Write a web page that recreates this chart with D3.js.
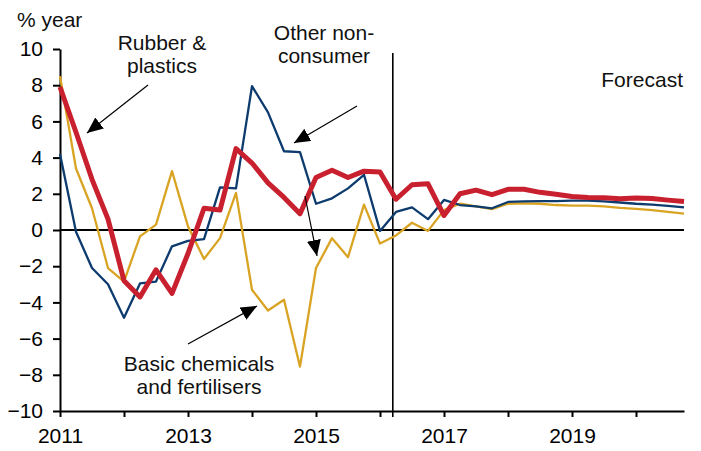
<!DOCTYPE html>
<html>
<head>
<meta charset="utf-8">
<script src="https://cdn.jsdelivr.net/npm/d3@7"></script>
<style>
  body { margin: 0; background: #fff; }
  svg { display: block; font-family: "Liberation Sans", Arial, sans-serif; }
</style>
</head>
<body>
<div id="chart"></div>
<script>
const quarters = [
  "2011Q1","2011Q2","2011Q3","2011Q4","2012Q1","2012Q2","2012Q3","2012Q4",
  "2013Q1","2013Q2","2013Q3","2013Q4","2014Q1","2014Q2","2014Q3","2014Q4",
  "2015Q1","2015Q2","2015Q3","2015Q4","2016Q1","2016Q2","2016Q3","2016Q4",
  "2017Q1","2017Q2","2017Q3","2017Q4","2018Q1","2018Q2","2018Q3","2018Q4",
  "2019Q1","2019Q2","2019Q3","2019Q4","2020Q1","2020Q2","2020Q3","2020Q4"
];

// % year
const basicChemicals = [
  8.5, 3.4, 1.2, -2.1, -2.85, -0.35, 0.3, 3.25, 0.2, -1.6, -0.45, 2.05,
  -3.3, -4.45, -3.85, -7.55, -2.1, -0.45, -1.5, 1.4, -0.75, -0.3, 0.4, -0.05,
  1.1, 1.45, 1.3, 1.15, 1.45, 1.47, 1.45, 1.38, 1.35, 1.35, 1.3, 1.22,
  1.17, 1.1, 1.0, 0.9
];
const otherNonConsumer = [
  4.2, -0.1, -2.1, -3.0, -4.85, -2.95, -2.85, -0.9, -0.6, -0.5, 2.35, 2.3,
  7.95, 6.5, 4.35, 4.3, 1.45, 1.75, 2.3, 3.05, -0.05, 1.0, 1.25, 0.6,
  1.66, 1.38, 1.3, 1.2, 1.55, 1.58, 1.6, 1.6, 1.62, 1.62, 1.58, 1.52,
  1.45, 1.4, 1.33, 1.25
];
const rubberPlastics = [
  7.9, 5.4, 2.8, 0.6, -2.8, -3.7, -2.2, -3.5, -1.3, 1.2, 1.1, 4.5,
  3.7, 2.6, 1.8, 0.9, 2.9, 3.3, 2.9, 3.25, 3.2, 1.7, 2.5, 2.55,
  0.8, 2.0, 2.2, 1.95, 2.25, 2.25, 2.08, 1.98, 1.85, 1.8, 1.78, 1.72,
  1.77, 1.74, 1.65, 1.57
];

const yTicks = [-10, -8, -6, -4, -2, 0, 2, 4, 6, 8, 10];
const xTicks = [2011, 2012, 2013, 2014, 2015, 2016, 2017, 2018, 2019, 2020];
const xLabelled = [2011, 2013, 2015, 2017, 2019];
const forecastStart = 2016.2;

const toYear = q => +q.slice(0, 4) + (+q.slice(5) - 1) / 4;

const size = { x: 701, y: 451 };
const plot = { left: 60, right: 684, top: 49, bottom: 411 };
const fontSize = "21px";

const svg = d3.select("#chart")
  .append("svg")
  .attr("width", size.x)
  .attr("height", size.y);

const xScale = d3.scaleLinear()
  .domain([2011, 2020.75])
  .range([plot.left, plot.right]);

const yScale = d3.scaleLinear()
  .domain([-10, 10])
  .range([plot.bottom, plot.top]);

// axes
const yAxis = svg.append("g")
  .attr("transform", `translate(${plot.left},0)`)
  .call(d3.axisLeft(yScale).tickValues(yTicks).tickSizeInner(7).tickSizeOuter(0).tickPadding(10));

const xAxis = svg.append("g")
  .attr("transform", `translate(0,${plot.bottom})`)
  .call(d3.axisBottom(xScale).tickValues(xTicks).tickSizeInner(6).tickSizeOuter(0).tickPadding(11)
    .tickFormat(d => xLabelled.includes(d) ? d : ""));

[xAxis, yAxis].forEach(g => {
  g.attr("font-family", null).attr("font-size", fontSize);
  g.selectAll("path, line").attr("stroke", "#000").attr("stroke-width", 2);
  g.selectAll("text").attr("fill", "#000");
});

// zero line
svg.append("line")
  .attr("x1", plot.left).attr("x2", plot.right)
  .attr("y1", yScale(0)).attr("y2", yScale(0))
  .attr("stroke", "#000").attr("stroke-width", 2);

// forecast divider
svg.append("line")
  .attr("x1", xScale(forecastStart)).attr("x2", xScale(forecastStart))
  .attr("y1", 53).attr("y2", plot.bottom + 6)
  .attr("stroke", "#000").attr("stroke-width", 1.6);

const line = d3.line()
  .x((d, i) => xScale(toYear(quarters[i])))
  .y(d => yScale(d));

const series = [
  { values: basicChemicals, color: "#d9a423", width: 2.3 },
  { values: otherNonConsumer, color: "#0d3b6e", width: 2.3 },
  { values: rubberPlastics, color: "#c8202e", width: 5 }
];

svg.append("g")
  .selectAll("path")
  .data(series)
  .enter()
  .append("path")
  .attr("d", d => line(d.values))
  .attr("fill", "none")
  .attr("stroke", d => d.color)
  .attr("stroke-width", d => d.width)
  .attr("stroke-linejoin", "round");

// annotations
svg.append("defs")
  .append("marker")
  .attr("id", "head")
  .attr("markerUnits", "userSpaceOnUse")
  .attr("markerWidth", 18).attr("markerHeight", 16)
  .attr("refX", 16).attr("refY", 7)
  .attr("orient", "auto")
  .append("path")
  .attr("d", "M0,0 L16,7 L0,14 Z")
  .attr("fill", "#000");

const arrows = [
  { from: [148, 85], to: [87, 133] },
  { from: [357, 106], to: [294, 143] },
  { from: [305, 196], to: [317, 256] },
  { from: [188, 344], to: [257, 306] }
];

svg.append("g")
  .selectAll("line")
  .data(arrows)
  .enter()
  .append("line")
  .attr("x1", d => d.from[0]).attr("y1", d => d.from[1])
  .attr("x2", d => d.to[0]).attr("y2", d => d.to[1])
  .attr("stroke", "#000").attr("stroke-width", 1.2)
  .attr("marker-end", "url(#head)");

const labels = [
  { text: "% year", x: 17, y: 27, anchor: "start" },
  { text: "Rubber &", x: 162, y: 50, anchor: "middle" },
  { text: "plastics", x: 162, y: 73, anchor: "middle" },
  { text: "Other non-", x: 324, y: 40, anchor: "middle" },
  { text: "consumer", x: 324, y: 63, anchor: "middle" },
  { text: "Forecast", x: 683, y: 87, anchor: "end" },
  { text: "Basic chemicals", x: 199, y: 371, anchor: "middle" },
  { text: "and fertilisers", x: 199, y: 394, anchor: "middle" }
];

svg.append("g")
  .selectAll("text")
  .data(labels)
  .enter()
  .append("text")
  .text(d => d.text)
  .attr("x", d => d.x)
  .attr("y", d => d.y)
  .attr("text-anchor", d => d.anchor)
  .attr("font-size", fontSize)
  .attr("fill", "#111");
</script>
</body>
</html>
